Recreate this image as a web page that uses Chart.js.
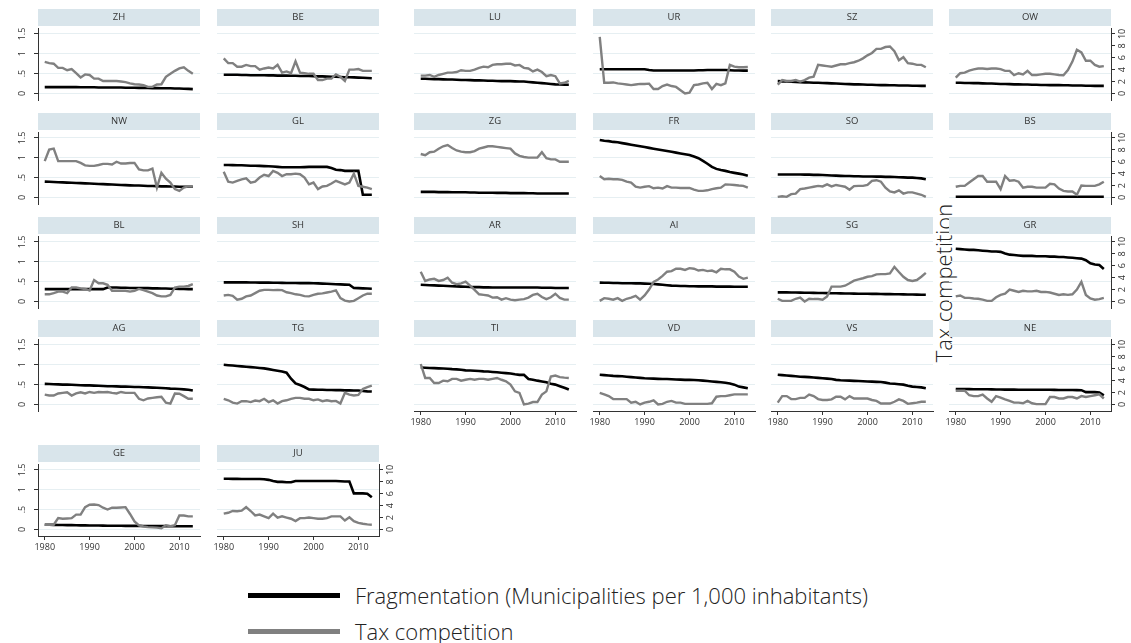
<!DOCTYPE html>
<html>
<head>
<meta charset="utf-8">
<script src="https://cdn.jsdelivr.net/npm/chart.js@4/dist/chart.umd.min.js"></script>
<style>
  body { margin: 0; background: #fff; width: 1131px; height: 643px; position: relative; overflow: hidden; font-family: 'Open Sans', sans-serif; }
  canvas { position: absolute; }
  #ytitle { position: absolute; left: 943px; top: 283px; transform: translate(-50%, -50%) rotate(-90deg); white-space: nowrap; font-size: 22px; font-weight: 300; color: #222; }
  .sw { position: absolute; left: 248px; width: 92px; height: 5px; }
  .lt { position: absolute; left: 355px; font-size: 22px; font-weight: 300; color: #222; white-space: nowrap; line-height: 26px; }
</style>
</head>
<body>
<div id="ytitle">Tax competition</div>
<div class="sw" style="top:593px;background:#000"></div>
<div class="lt" style="top:582px">Fragmentation (Municipalities per 1,000 inhabitants)</div>
<div class="sw" style="top:629px;background:#808080"></div>
<div class="lt" style="top:618px">Tax competition</div>
<script>
const years = [1980,1981,1982,1983,1984,1985,1986,1987,1988,1989,1990,1991,1992,1993,1994,1995,1996,1997,1998,1999,2000,2001,2002,2003,2004,2005,2006,2007,2008,2009,2010,2011,2012,2013];
const cantons = ['ZH','BE','LU','UR','SZ','OW','NW','GL','ZG','FR','SO','BS','BL','SH','AR','AI','SG','GR','AG','TG','TI','VD','VS','NE','GE','JU'];
const fragTicks = [0, 0.5, 1, 1.5];
const taxTicks = [0, 2, 4, 6, 8, 10];
const yearTicks = [1980, 1990, 2000, 2010];

// Fragmentation (left axis) and tax competition (right axis), 1980-2013
const fragZH = [0.16,0.16,0.16,0.16,0.16,0.16,0.16,0.16,0.155,0.155,0.155,0.155,0.15,0.15,0.15,0.15,0.15,0.15,0.145,0.145,0.145,0.14,0.14,0.14,0.135,0.135,0.13,0.13,0.13,0.125,0.125,0.12,0.115,0.11];
const taxZH = [5.3,5.1,5.0,4.3,4.3,3.9,4.1,3.4,2.7,3.2,3.1,2.5,2.5,2.1,2.1,2.1,2.1,2.0,1.9,1.7,1.55,1.5,1.4,1.1,1.1,1.5,1.55,2.8,3.3,3.8,4.2,4.4,3.8,3.3];
const fragBE = [0.47,0.47,0.47,0.47,0.465,0.465,0.46,0.46,0.46,0.46,0.455,0.455,0.45,0.45,0.45,0.445,0.445,0.44,0.44,0.44,0.435,0.43,0.43,0.425,0.42,0.42,0.415,0.41,0.41,0.405,0.40,0.395,0.39,0.385];
const taxBE = [5.9,5.1,5.1,4.5,4.5,4.8,4.6,4.6,4.0,4.2,4.35,4.2,4.8,3.5,3.7,3.4,5.4,3.5,3.4,3.3,3.3,2.25,2.25,2.5,2.5,3.2,2.8,2.1,4.0,4.0,4.1,3.8,3.8,3.8];
const fragLU = [0.37,0.37,0.365,0.36,0.36,0.355,0.35,0.35,0.345,0.34,0.34,0.335,0.33,0.33,0.325,0.32,0.32,0.315,0.31,0.31,0.31,0.305,0.30,0.30,0.29,0.28,0.27,0.26,0.25,0.24,0.23,0.225,0.22,0.22];
const taxLU = [3.0,3.0,3.1,2.8,3.1,3.3,3.5,3.5,3.6,3.9,3.8,3.8,4.0,4.3,4.5,4.4,4.8,4.9,4.9,5.0,5.0,4.7,4.8,4.3,4.2,3.7,4.0,3.6,2.9,3.1,2.9,1.7,1.8,2.1];
const fragUR = [0.61,0.61,0.61,0.61,0.61,0.61,0.61,0.61,0.61,0.61,0.61,0.59,0.58,0.58,0.58,0.58,0.58,0.58,0.58,0.58,0.58,0.58,0.585,0.585,0.59,0.59,0.59,0.59,0.59,0.585,0.58,0.58,0.575,0.575];
const taxUR = [9.5,1.8,1.8,1.85,1.7,1.6,1.5,1.4,1.5,1.6,1.6,1.65,0.75,0.75,1.25,1.5,1.25,1.1,0.55,0.0,0.15,1.4,1.5,1.7,1.8,0.75,1.6,1.4,1.7,4.8,4.5,4.4,4.4,4.45];
const fragSZ = [0.31,0.305,0.30,0.295,0.29,0.285,0.28,0.275,0.27,0.27,0.265,0.26,0.255,0.25,0.245,0.24,0.235,0.23,0.23,0.225,0.22,0.22,0.215,0.21,0.21,0.205,0.205,0.20,0.20,0.20,0.195,0.195,0.19,0.19];
const taxSZ = [1.5,2.25,2.1,2.1,2.25,2.0,2.25,2.65,2.8,4.8,4.7,4.6,4.5,4.7,4.9,4.9,5.1,5.25,5.5,5.9,6.4,6.8,7.5,7.5,7.8,7.9,7.1,5.6,6.1,5.1,5.0,4.8,4.8,4.4];
const fragOW = [0.27,0.27,0.265,0.265,0.26,0.26,0.255,0.25,0.25,0.245,0.24,0.24,0.235,0.23,0.23,0.225,0.225,0.22,0.22,0.215,0.215,0.21,0.21,0.21,0.205,0.205,0.20,0.20,0.20,0.195,0.195,0.19,0.19,0.19];
const taxOW = [2.65,3.4,3.5,3.85,4.05,4.2,4.2,4.1,4.2,4.2,4.1,3.8,3.8,3.1,3.4,3.2,3.8,3.1,3.1,3.2,3.3,3.3,3.2,3.1,3.05,3.95,5.35,7.35,6.9,5.5,5.5,4.8,4.5,4.6];
const fragNW = [0.40,0.395,0.39,0.385,0.38,0.375,0.37,0.365,0.36,0.355,0.35,0.345,0.34,0.335,0.33,0.325,0.32,0.315,0.31,0.305,0.30,0.30,0.295,0.29,0.29,0.285,0.28,0.28,0.275,0.275,0.27,0.27,0.27,0.27];
const taxNW = [6.1,8.05,8.2,6.1,6.1,6.1,6.1,6.1,5.8,5.4,5.3,5.3,5.45,5.65,5.65,5.55,6.0,5.7,5.7,5.8,5.8,4.7,4.55,4.55,4.85,1.65,4.15,3.15,2.5,1.4,1.1,1.65,1.85,1.85];
const fragGL = [0.82,0.82,0.815,0.81,0.81,0.805,0.80,0.80,0.795,0.79,0.785,0.78,0.77,0.76,0.76,0.76,0.76,0.76,0.765,0.77,0.77,0.77,0.775,0.77,0.74,0.70,0.69,0.67,0.67,0.67,0.67,0.07,0.07,0.07];
const taxGL = [4.3,2.65,2.5,2.8,3.05,3.2,2.5,2.65,3.35,3.8,3.6,4.45,4.15,3.6,3.9,3.9,4.0,3.9,3.35,2.2,2.5,1.4,1.85,1.95,2.35,2.8,2.5,2.2,2.5,4.0,1.95,1.8,1.65,1.4];
const fragZG = [0.14,0.14,0.14,0.14,0.135,0.135,0.135,0.13,0.13,0.13,0.13,0.125,0.125,0.12,0.12,0.12,0.12,0.115,0.115,0.115,0.11,0.11,0.11,0.11,0.105,0.105,0.10,0.10,0.10,0.10,0.10,0.10,0.10,0.10];
const taxZG = [7.3,7.1,7.6,7.7,8.2,8.6,8.8,8.3,7.9,7.7,7.6,7.6,7.8,8.2,8.4,8.6,8.6,8.5,8.4,8.3,8.2,7.4,7.0,6.8,6.7,6.7,6.7,7.6,6.6,6.4,6.4,6.0,6.0,6.0];
const fragFR = [1.45,1.43,1.42,1.40,1.39,1.37,1.35,1.33,1.31,1.29,1.27,1.25,1.23,1.21,1.19,1.17,1.15,1.13,1.11,1.09,1.07,1.03,0.99,0.92,0.85,0.77,0.72,0.69,0.67,0.64,0.62,0.60,0.58,0.55];
const taxFR = [3.6,3.05,3.15,3.05,3.05,2.95,2.65,2.5,1.8,1.65,1.8,1.9,1.55,1.65,1.5,1.9,1.65,1.65,1.6,1.6,1.6,1.3,1.1,1.1,1.2,1.4,1.55,1.65,2.2,2.15,2.1,2.0,1.95,1.65];
const fragSO = [0.58,0.58,0.58,0.58,0.58,0.58,0.575,0.575,0.57,0.57,0.565,0.56,0.555,0.55,0.545,0.54,0.54,0.535,0.535,0.53,0.53,0.53,0.525,0.525,0.52,0.52,0.515,0.51,0.505,0.50,0.50,0.49,0.48,0.46];
const taxSO = [0.1,0.2,0.1,0.55,0.65,1.4,1.5,1.65,1.8,1.95,1.85,2.2,1.85,2.1,1.95,1.8,1.3,1.9,1.95,1.95,2.1,2.8,2.9,2.65,1.65,1.0,0.85,1.2,0.65,0.85,0.85,0.65,0.45,0.1];
const fragBS = [0.016,0.016,0.016,0.016,0.016,0.016,0.016,0.016,0.016,0.016,0.016,0.016,0.016,0.016,0.016,0.016,0.016,0.016,0.016,0.016,0.016,0.016,0.016,0.016,0.016,0.016,0.016,0.016,0.016,0.016,0.016,0.016,0.016,0.016];
const taxBS = [1.8,1.95,1.95,2.5,3.05,3.6,3.6,2.65,2.65,2.65,1.4,3.6,2.8,2.9,2.65,1.65,1.8,1.8,1.65,1.65,1.65,2.3,2.2,1.5,1.1,1.0,1.0,0.45,2.0,1.95,1.95,1.95,2.2,2.65];
const fragBL = [0.31,0.31,0.31,0.31,0.31,0.31,0.31,0.31,0.31,0.31,0.31,0.31,0.31,0.31,0.35,0.35,0.35,0.345,0.345,0.34,0.34,0.34,0.335,0.335,0.33,0.33,0.325,0.325,0.32,0.32,0.315,0.315,0.31,0.31];
const taxBL = [1.2,1.2,1.4,1.65,1.65,1.4,2.35,2.35,2.2,2.1,1.85,3.6,3.05,3.05,2.8,1.8,1.8,1.8,1.8,1.65,1.8,2.1,1.9,1.65,1.4,1.0,0.85,0.85,1.1,2.35,2.5,2.5,2.6,2.9];
const fragSH = [0.48,0.48,0.48,0.48,0.48,0.48,0.478,0.476,0.475,0.475,0.475,0.47,0.47,0.468,0.466,0.465,0.464,0.463,0.462,0.461,0.46,0.455,0.45,0.445,0.44,0.435,0.43,0.425,0.42,0.34,0.335,0.33,0.325,0.32];
const taxSH = [1.0,1.1,0.95,0.3,0.45,0.85,1.0,1.4,1.8,1.95,1.95,1.9,1.95,1.9,1.55,1.4,1.2,1.1,0.9,0.85,1.1,1.3,1.35,1.5,1.65,1.85,0.55,0.15,0.0,0.1,0.55,1.0,1.3,1.3];
const fragAR = [0.42,0.415,0.41,0.405,0.40,0.395,0.39,0.385,0.38,0.375,0.37,0.365,0.36,0.36,0.355,0.355,0.35,0.35,0.35,0.35,0.35,0.35,0.35,0.35,0.35,0.35,0.35,0.345,0.345,0.345,0.34,0.34,0.34,0.34];
const taxAR = [5.0,3.45,3.7,3.8,3.45,3.6,4.0,3.15,2.9,3.05,3.35,2.65,1.95,1.2,1.1,1.0,0.65,0.7,0.3,0.55,0.3,0.2,0.3,0.4,0.65,1.1,1.3,0.75,0.4,0.7,1.3,0.6,0.3,0.3];
const fragAI = [0.475,0.47,0.47,0.465,0.465,0.46,0.46,0.46,0.455,0.455,0.45,0.445,0.44,0.43,0.42,0.41,0.40,0.395,0.39,0.39,0.385,0.385,0.38,0.38,0.38,0.38,0.375,0.375,0.375,0.375,0.37,0.37,0.37,0.37];
const taxAI = [0.1,0.55,0.45,0.3,0.55,0.1,0.45,0.65,0.95,0.3,1.0,2.0,3.3,3.7,4.3,5.0,5.1,5.5,5.5,5.3,5.6,5.5,5.2,5.3,5.1,5.2,4.9,5.5,5.4,5.4,5.0,4.2,3.8,4.0];
const fragSG = [0.23,0.23,0.228,0.226,0.224,0.222,0.22,0.218,0.216,0.214,0.212,0.21,0.208,0.206,0.204,0.202,0.20,0.198,0.196,0.195,0.194,0.192,0.19,0.188,0.186,0.184,0.182,0.18,0.178,0.176,0.174,0.172,0.17,0.168];
const taxSG = [0.45,0.1,0.1,0.1,0.45,0.65,0.0,0.45,0.4,0.4,0.3,0.85,2.5,2.5,2.5,2.65,3.05,3.5,3.7,3.9,4.15,4.25,4.55,4.6,4.6,4.7,5.8,4.95,4.15,3.6,3.45,3.6,4.15,4.8];
const fragGR = [1.33,1.32,1.31,1.30,1.30,1.29,1.28,1.27,1.26,1.26,1.25,1.21,1.18,1.17,1.16,1.15,1.15,1.15,1.14,1.14,1.14,1.13,1.13,1.12,1.12,1.11,1.10,1.09,1.08,1.04,0.96,0.93,0.92,0.82];
const taxGR = [0.85,1.0,0.6,0.6,0.5,0.45,0.3,0.1,0.1,0.7,1.1,1.3,2.0,1.8,1.6,1.8,1.7,1.7,1.8,1.6,1.6,1.5,1.3,1.1,1.2,1.1,1.2,2.0,3.3,1.1,0.5,0.3,0.4,0.6];
const fragAG = [0.52,0.515,0.51,0.505,0.50,0.50,0.495,0.49,0.485,0.48,0.48,0.475,0.47,0.465,0.46,0.46,0.455,0.45,0.45,0.445,0.44,0.44,0.435,0.43,0.425,0.42,0.415,0.41,0.40,0.395,0.39,0.38,0.37,0.35];
const taxAG = [1.65,1.5,1.5,1.85,1.95,2.05,1.5,1.85,2.05,1.85,2.1,1.95,2.1,2.05,2.1,1.95,1.85,2.1,1.95,1.95,1.95,0.95,0.7,1.0,1.1,1.2,1.3,0.3,0.15,1.85,1.8,1.4,0.95,0.95];
const fragTG = [1.0,0.99,0.98,0.97,0.96,0.95,0.94,0.93,0.92,0.91,0.89,0.87,0.85,0.83,0.80,0.65,0.53,0.49,0.44,0.38,0.375,0.37,0.37,0.365,0.365,0.36,0.36,0.355,0.355,0.35,0.35,0.34,0.33,0.325];
const taxTG = [0.95,0.7,0.3,0.15,0.55,0.55,0.4,0.65,0.55,0.95,0.4,0.7,0.15,0.55,0.7,0.95,1.1,1.1,0.95,0.95,0.7,0.85,0.55,0.7,0.55,0.6,0.15,1.95,1.65,1.5,1.6,2.6,2.9,3.15];
const fragTI = [0.93,0.925,0.92,0.915,0.91,0.905,0.90,0.89,0.885,0.875,0.86,0.855,0.85,0.845,0.835,0.83,0.82,0.81,0.80,0.79,0.78,0.76,0.745,0.745,0.64,0.625,0.60,0.58,0.56,0.52,0.50,0.46,0.42,0.375];
const taxTI = [6.8,4.45,4.45,3.6,3.6,4.0,3.9,4.3,4.3,4.0,4.15,4.3,4.15,4.3,4.3,4.15,4.3,4.45,4.15,3.9,3.35,2.2,1.95,0.0,0.15,0.4,0.4,1.65,2.2,4.7,4.85,4.6,4.5,4.45];
const fragVD = [0.75,0.74,0.73,0.72,0.715,0.71,0.70,0.69,0.68,0.67,0.66,0.655,0.65,0.645,0.64,0.64,0.635,0.63,0.625,0.62,0.62,0.615,0.61,0.60,0.59,0.58,0.57,0.56,0.545,0.53,0.50,0.45,0.43,0.41];
const taxVD = [1.95,1.7,1.4,0.9,0.9,0.9,0.9,0.3,0.45,0.0,0.3,0.45,0.7,0.0,0.1,0.45,0.6,0.3,0.3,0.1,0.1,0.1,0.1,0.1,0.1,0.2,1.3,1.4,1.4,1.55,1.7,1.7,1.7,1.7];
const fragVS = [0.75,0.74,0.73,0.72,0.71,0.70,0.695,0.69,0.68,0.67,0.66,0.65,0.64,0.62,0.61,0.605,0.60,0.595,0.59,0.585,0.58,0.575,0.57,0.565,0.55,0.53,0.52,0.51,0.50,0.47,0.45,0.44,0.43,0.41];
const taxVS = [0.3,1.4,1.4,0.9,0.9,1.1,1.1,1.65,1.4,0.9,0.75,0.75,0.85,1.3,1.3,0.85,1.4,1.0,1.0,1.0,1.0,0.75,0.6,0.15,0.15,0.15,0.45,0.85,0.6,0.1,0.2,0.3,0.45,0.45];
const fragNE = [0.39,0.39,0.388,0.386,0.385,0.384,0.383,0.382,0.38,0.378,0.376,0.375,0.374,0.373,0.372,0.371,0.37,0.37,0.37,0.37,0.37,0.37,0.368,0.366,0.365,0.364,0.363,0.362,0.36,0.31,0.31,0.31,0.30,0.23];
const taxNE = [2.3,2.3,2.3,1.55,1.4,1.4,1.65,1.0,0.45,1.4,1.15,0.85,0.6,0.3,0.3,0.2,0.6,0.2,0.05,0.05,0.05,1.25,1.25,1.0,1.0,1.25,1.25,1.0,1.4,1.25,1.4,1.55,1.7,1.0];
const fragGE = [0.12,0.118,0.116,0.114,0.112,0.11,0.108,0.106,0.104,0.102,0.10,0.10,0.098,0.096,0.095,0.094,0.093,0.092,0.091,0.09,0.09,0.089,0.088,0.087,0.086,0.085,0.084,0.083,0.082,0.081,0.08,0.08,0.08,0.08];
const taxGE = [0.8,0.8,0.8,1.9,1.8,1.85,1.9,2.5,2.5,3.75,4.15,4.2,4.1,3.65,3.35,3.65,3.65,3.7,3.75,2.6,1.35,0.7,0.5,0.4,0.35,0.3,0.2,0.7,0.55,0.7,2.35,2.35,2.2,2.2];
const fragJU = [1.28,1.28,1.275,1.275,1.27,1.27,1.27,1.27,1.27,1.265,1.25,1.22,1.2,1.2,1.19,1.19,1.22,1.22,1.22,1.22,1.22,1.22,1.22,1.22,1.22,1.22,1.215,1.21,1.21,0.91,0.91,0.91,0.9,0.81];
const taxJU = [2.65,2.8,3.1,3.05,3.15,3.75,3.1,2.35,2.5,2.2,1.9,2.65,2.0,2.2,2.0,1.8,1.4,1.9,1.9,2.0,1.9,1.8,1.8,1.9,2.2,2.2,2.2,1.5,2.05,1.4,1.1,0.95,0.85,0.8];

const series = {
  ZH: [fragZH, taxZH], BE: [fragBE, taxBE], LU: [fragLU, taxLU], UR: [fragUR, taxUR], SZ: [fragSZ, taxSZ], OW: [fragOW, taxOW],
  NW: [fragNW, taxNW], GL: [fragGL, taxGL], ZG: [fragZG, taxZG], FR: [fragFR, taxFR], SO: [fragSO, taxSO], BS: [fragBS, taxBS],
  BL: [fragBL, taxBL], SH: [fragSH, taxSH], AR: [fragAR, taxAR], AI: [fragAI, taxAI], SG: [fragSG, taxSG], GR: [fragGR, taxGR],
  AG: [fragAG, taxAG], TG: [fragTG, taxTG], TI: [fragTI, taxTI], VD: [fragVD, taxVD], VS: [fragVS, taxVS], NE: [fragNE, taxNE],
  GE: [fragGE, taxGE], JU: [fragJU, taxJU]
};

// panel placement (chart area left edge, canvas top)
const colLeft = [38, 217, 414, 593, 771, 949];
const rowTop = [7, 111, 215, 318, 443];

Chart.defaults.font.family = "'Open Sans', sans-serif";

const stripPlugin = {
  id: 'strip',
  beforeDraw(chart, args, opts) {
    const ctx = chart.ctx, a = chart.chartArea;
    ctx.save();
    ctx.fillStyle = '#d9e5eb';
    ctx.fillRect(a.left, a.top - 19, a.right - a.left, 17);
    ctx.fillStyle = '#333';
    ctx.font = "9.5px 'Open Sans', sans-serif";
    ctx.textAlign = 'center';
    ctx.textBaseline = 'middle';
    ctx.fillText(opts.text, (a.left + a.right) / 2, a.top - 10.5);
    ctx.restore();
  }
};

function toPoints(vals) {
  return years.map((yr, i) => ({ x: yr, y: vals[i] }));
}

cantons.forEach((name, i) => {
  const row = Math.floor(i / 6), col = i % 6;
  const showLeft = col === 0;
  const showRight = col === 5 || name === 'JU';
  const showX = (row === 3 && col >= 2) || row === 4;

  const cv = document.createElement('canvas');
  cv.width = 234; cv.height = 123;
  cv.style.left = (colLeft[col] - 40) + 'px';
  cv.style.top = rowTop[row] + 'px';
  document.body.appendChild(cv);

  new Chart(cv, {
    type: 'line',
    data: {
      datasets: [
        { label: 'Tax competition', data: toPoints(series[name][1]), yAxisID: 'y2', borderColor: '#808080', borderWidth: 2.4, pointRadius: 0, order: 1 },
        { label: 'Fragmentation', data: toPoints(series[name][0]), yAxisID: 'y', borderColor: '#000', borderWidth: 2.6, pointRadius: 0, order: 2 }
      ]
    },
    options: {
      animation: false,
      responsive: false,
      devicePixelRatio: 1,
      layout: { padding: { top: 21, left: 0, right: 0, bottom: 0 } },
      plugins: { legend: { display: false }, tooltip: { enabled: false }, strip: { text: name } },
      scales: {
        x: {
          type: 'linear', min: 1978.5, max: 2014.6,
          afterBuildTicks: s => { s.ticks = yearTicks.map(v => ({ value: v })); },
          afterFit: s => { s.height = 30; },
          grid: { display: showX, drawOnChartArea: false, tickLength: 4, tickColor: '#333' },
          border: { display: showX, color: '#333' },
          ticks: { display: showX, padding: 2, color: '#333', font: { size: 9 }, maxRotation: 0, callback: v => String(v) }
        },
        y: {
          position: 'left', min: -0.165, max: 1.65,
          afterBuildTicks: s => { s.ticks = fragTicks.map(v => ({ value: v })); },
          afterFit: s => { s.width = 40; },
          grid: { color: '#e6eff2', drawTicks: showLeft, tickLength: 4, tickColor: '#333' },
          border: { display: showLeft, color: '#333' },
          ticks: { display: showLeft, minRotation: 90, maxRotation: 90, crossAlign: 'center', padding: 5, color: '#333', font: { size: 9 },
                   callback: v => (v === 0.5 ? '.5' : String(v)) }
        },
        y2: {
          position: 'right', min: -1.1, max: 11,
          afterBuildTicks: s => { s.ticks = taxTicks.map(v => ({ value: v })); },
          afterFit: s => { s.width = 32; },
          grid: { display: showRight, drawOnChartArea: false, tickLength: 4, tickColor: '#333' },
          border: { display: showRight, color: '#333' },
          ticks: { display: showRight, minRotation: 90, maxRotation: 90, crossAlign: 'center', padding: 2, color: '#333', font: { size: 9 },
                   callback: v => String(v) }
        }
      }
    },
    plugins: [stripPlugin]
  });
});
</script>
</body>
</html>
